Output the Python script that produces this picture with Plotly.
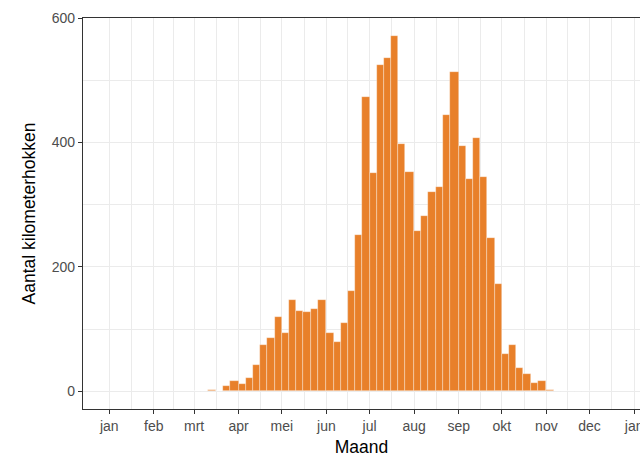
import datetime as dt
import plotly.graph_objects as go

YEAR = 2019
month_labels = ["jan", "feb", "mrt", "apr", "mei", "jun", "jul", "aug", "sep", "okt", "nov", "dec", "jan"]
bin_start_days = [1, 6, 11, 16, 21, 26]

# counts per 5-day period (6 periods per month), months mrt..nov
data_months = [3, 4, 5, 6, 7, 8, 9, 10, 11]
counts_mrt = [0, 0, 2, 1, 9, 17]
counts_apr = [12, 21, 43, 75, 85, 120]
counts_mei = [93, 147, 129, 127, 133, 147]
counts_jun = [94, 79, 109, 161, 251, 474]
counts_jul = [351, 525, 536, 571, 398, 352]
counts_aug = [257, 282, 321, 329, 445, 513]
counts_sep = [394, 341, 408, 344, 247, 173]
counts_okt = [60, 75, 37, 28, 14, 16]
counts_nov = [2, 1, 0, 0, 0, 0]
counts_all = [counts_mrt, counts_apr, counts_mei, counts_jun, counts_jul,
              counts_aug, counts_sep, counts_okt, counts_nov]

xs, ws, ys = [], [], []
for m, cnts in zip(data_months, counts_all):
    starts = [dt.datetime(YEAR, m, d) for d in bin_start_days]
    nxt = dt.datetime(YEAR + (m == 12), m % 12 + 1, 1)
    ends = starts[1:] + [nxt]
    for s, e, c in zip(starts, ends, cnts):
        xs.append(s)
        ws.append((e - s).total_seconds() * 1000)
        ys.append(c)

tick_dates = [dt.datetime(YEAR, m, 1) for m in range(1, 13)] + [dt.datetime(YEAR + 1, 1, 1)]
minor_dates = [a + (b - a) / 2 for a, b in zip(tick_dates[:-1], tick_dates[1:])]

x0 = dt.datetime(YEAR, 1, 1) - dt.timedelta(days=18.25)
x1 = x0 + dt.timedelta(days=557 / 1.438)

fig = go.Figure(go.Bar(
    x=xs, y=ys, width=ws, offset=0,
    marker=dict(color="#E8802A", line=dict(color="rgba(255,255,255,0.55)", width=0.6)),
    hoverinfo="skip",
))

FONT = "Liberation Sans, Arial, Helvetica, sans-serif"
fig.update_layout(
    width=640, height=460,
    margin=dict(l=83, r=0, t=18, b=51),
    paper_bgcolor="white", plot_bgcolor="white",
    showlegend=False, bargap=0,
    font=dict(family=FONT),
    xaxis=dict(
        type="date", range=[x0, x1], automargin=False,
        tickmode="array", tickvals=tick_dates, ticktext=month_labels,
        tickfont=dict(size=14, color="#4D4D4D"), ticklabeloverflow="allow",
        ticks="outside", ticklen=4, tickwidth=1, tickcolor="#333333",
        showgrid=True, gridcolor="#EBEBEB", gridwidth=1.3,
        minor=dict(tickmode="array", tickvals=minor_dates, showgrid=True,
                   gridcolor="#EBEBEB", gridwidth=0.8, ticks=""),
        showline=True, linecolor="#333333", linewidth=1.3, mirror=True,
        zeroline=False,
        title=dict(text="Maand", font=dict(size=17.5, color="black"), standoff=7),
    ),
    yaxis=dict(
        range=[-28.55, 600.3], automargin=False,
        tickmode="array", tickvals=[0, 200, 400, 600],
        tickfont=dict(size=14, color="#4D4D4D"),
        ticks="outside", ticklen=4, tickwidth=1, tickcolor="#333333",
        showgrid=True, gridcolor="#EBEBEB", gridwidth=1.3,
        minor=dict(tickmode="array", tickvals=[100, 300, 500], showgrid=True,
                   gridcolor="#EBEBEB", gridwidth=0.8, ticks=""),
        showline=True, linecolor="#333333", linewidth=1.3, mirror=False,
        zeroline=False,
        title=dict(text="Aantal kilometerhokken", font=dict(size=17.5, color="black"), standoff=11),
    ),
)

fig.write_html(
    "out.html",
    config={"displayModeBar": False},
    post_script="document.body.style.margin='0';document.body.style.overflow='hidden';",
)
